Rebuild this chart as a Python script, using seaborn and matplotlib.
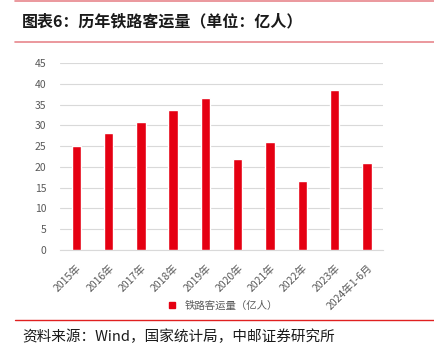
import matplotlib
matplotlib.use("Agg")
import matplotlib.pyplot as plt
import seaborn as sns
import pandas as pd
from matplotlib.lines import Line2D

# -----------------------------
# Data
# -----------------------------
years = ["2015年", "2016年", "2017年", "2018年", "2019年",
         "2020年", "2021年", "2022年", "2023年", "2024年1-6月"]
passengers = [25.0, 28.1, 30.8, 33.7, 36.6, 22.0, 26.1, 16.7, 38.5, 20.9]
y_ticks = [0, 5, 10, 15, 20, 25, 30, 35, 40, 45]

title = "图表6：历年铁路客运量（单位：亿人）"
series_name = "铁路客运量（亿人）"
source = "资料来源：Wind，国家统计局，中邮证券研究所"

df = pd.DataFrame({"year": years, "value": passengers})

# -----------------------------
# Style
# -----------------------------
sns.set_style("white")
plt.rcParams["font.family"] = ["Noto Sans CJK SC", "DejaVu Sans"]

bar_red = "#E50012"
tick_grey = "#595959"

fig = plt.figure(figsize=(4.35, 3.54), dpi=100)
ax = fig.add_axes([0.138, 0.294, 0.743, 0.528])

sns.barplot(data=df, x="year", y="value", color=bar_red, width=0.29,
            saturation=1, ax=ax, zorder=3)

ax.set_xlim(-0.5, len(years) - 0.5)
ax.set_ylim(0, 45)
ax.set_yticks(y_ticks)
ax.yaxis.grid(True, color="#D9D9D9", linewidth=0.8, zorder=0)
ax.set_xlabel("")
ax.set_ylabel("")
for s in ["top", "right", "left"]:
    ax.spines[s].set_visible(False)
ax.spines["bottom"].set_color("#D9D9D9")
ax.tick_params(axis="y", length=0, labelsize=7.5, labelcolor=tick_grey, pad=10)
ax.tick_params(axis="x", length=0, labelsize=7.5, labelcolor=tick_grey, pad=9)
plt.setp(ax.get_xticklabels(), rotation=45, ha="right", rotation_mode="anchor")

# legend
handle = Line2D([], [], marker="s", linestyle="", color=bar_red, markersize=5)
fig.legend([handle], [series_name], loc="center", bbox_to_anchor=(0.505, 0.136),
           frameon=False, fontsize=7.5, handletextpad=0.2, labelcolor=tick_grey)

# -----------------------------
# Header / footer
# -----------------------------
fig.add_artist(Line2D([15 / 435, 1], [1 - 1 / 354] * 2, color="#E8868C", linewidth=1.2))
fig.add_artist(Line2D([15 / 435, 1], [1 - 42 / 354] * 2, color="#E8868C", linewidth=1.2))
fig.text(22 / 435, 1 - 21 / 354, title, fontsize=11.5, fontweight="bold",
         va="center", ha="left", color="#1A1A1A")
fig.add_artist(Line2D([15 / 435, 1], [1 - 320 / 354] * 2, color="#E02020", linewidth=1.0))
fig.text(22 / 435, 1 - 337 / 354, source, fontsize=10.5, va="center", ha="left",
         color="#1A1A1A")

fig.savefig("out.png", dpi=100)
